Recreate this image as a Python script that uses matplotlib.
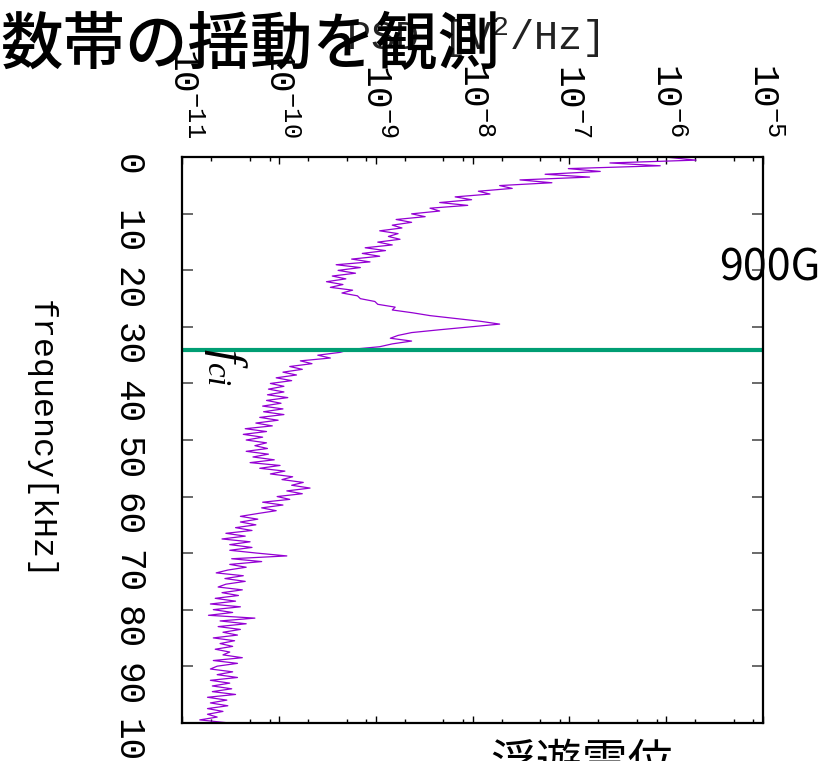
import numpy as np
import matplotlib
matplotlib.use('Agg')
import matplotlib.pyplot as plt
from matplotlib.ticker import LogLocator, NullFormatter
from matplotlib.transforms import ScaledTranslation

# log10 of the power spectral density [V^2/Hz], one sample every 0.5 kHz from 0 to 100 kHz
log_psd = [
    -5.98, -5.69, -6.58, -6.06, -7.01, -6.68, -7.25, -6.79, -7.51, -7.18,
    -7.72, -7.59, -7.94, -7.82, -8.18, -8.01, -8.34, -8.05, -8.44, -8.34,
    -8.63, -8.49, -8.79, -8.63, -8.83, -8.73, -8.96, -8.77, -8.87, -8.75,
    -8.98, -8.83, -9.11, -8.90, -9.14, -8.96, -9.25, -9.06, -9.41, -9.16,
    -9.39, -9.21, -9.45, -9.31, -9.51, -9.34, -9.47, -9.24, -9.35, -9.19,
    -9.16, -9.01, -8.98, -8.80, -8.83, -8.62, -8.44, -8.18, -7.92, -7.72,
    -8.03, -8.34, -8.63, -8.77, -8.85, -8.63, -8.83, -8.96, -9.27, -9.37,
    -9.60, -9.47, -9.78, -9.66, -9.89, -9.76, -9.96, -9.82, -10.03, -9.87,
    -10.09, -9.95, -10.11, -9.95, -10.12, -9.91, -10.13, -9.98, -10.17, -9.96,
    -10.16, -9.95, -10.20, -10.01, -10.24, -10.07, -10.35, -10.13, -10.37, -10.17,
    -10.34, -10.13, -10.25, -10.12, -10.34, -10.11, -10.27, -10.05, -10.30, -9.99,
    -10.20, -9.94, -10.09, -9.86, -9.97, -9.75, -9.87, -9.68, -9.92, -9.76,
    -10.02, -9.89, -10.17, -9.96, -10.18, -10.03, -10.22, -10.40, -10.22, -10.40,
    -10.24, -10.45, -10.28, -10.55, -10.35, -10.59, -10.30, -10.51, -10.28, -10.51,
    -10.23, -9.92, -10.49, -10.18, -10.51, -10.34, -10.53, -10.65, -10.37, -10.56,
    -10.35, -10.55, -10.63, -10.38, -10.59, -10.42, -10.66, -10.45, -10.71, -10.40,
    -10.68, -10.48, -10.73, -10.25, -10.61, -10.34, -10.63, -10.40, -10.58, -10.43,
    -10.68, -10.46, -10.61, -10.48, -10.66, -10.51, -10.58, -10.38, -10.68, -10.43,
    -10.64, -10.71, -10.48, -10.64, -10.43, -10.71, -10.51, -10.69, -10.49, -10.69,
    -10.45, -10.74, -10.54, -10.71, -10.53, -10.74, -10.58, -10.74, -10.64, -10.82,
    -10.54,
]
freq_khz = np.linspace(0, 100, len(log_psd))
psd = 10.0 ** np.array(log_psd)

f_ci_khz = 34.0          # ion cyclotron frequency
freq_ticks = [0, 10, 20, 30, 40, 50, 60, 70, 80, 90, 100]
psd_limits = (1e-11, 1e-5)

title_text = '数帯の揺動を観測'
field_text = '900G'
probe_text = '浮遊電位'

plt.rcParams['font.family'] = ['Liberation Mono', 'DejaVu Sans']
plt.rcParams['mathtext.fontset'] = 'custom'
plt.rcParams['mathtext.rm'] = 'Liberation Mono'
plt.rcParams['mathtext.it'] = 'Liberation Serif:italic'
cjk = ['Noto Sans CJK JP', 'DejaVu Sans']

fig = plt.figure(figsize=(8.33, 7.61), dpi=100, facecolor='white')
ax = fig.add_axes([0.2189, 0.0503, 0.6968, 0.7430])

# spectrum: PSD along the horizontal log axis, frequency running downwards
ax.plot(psd, freq_khz, color='#9400D3', lw=0.9)
ax.axhline(f_ci_khz, color='#009E73', lw=3)

ax.set_xscale('log')
ax.set_xlim(*psd_limits)
ax.set_ylim(100, 0)

ax.xaxis.set_major_locator(LogLocator(base=10, numticks=10))
ax.xaxis.set_minor_locator(LogLocator(base=10, subs=(2, 5, 8), numticks=10))
ax.xaxis.set_minor_formatter(NullFormatter())
ax.tick_params(axis='x', which='both', direction='in', top=True, bottom=True,
               labeltop=True, labelbottom=False, labelrotation=-90,
               labelsize=26, pad=14, color='black', width=1)
ax.tick_params(axis='x', which='major', length=5)
ax.tick_params(axis='x', which='minor', length=3)

ax.set_yticks(freq_ticks)
ax.set_yticklabels([str(t) for t in freq_ticks])
ax.tick_params(axis='y', direction='in', left=True, right=True, length=8,
               width=1.2, color='#505050', labelrotation=-90, labelsize=26, pad=27)
shift = ScaledTranslation(0, -0.10, fig.dpi_scale_trans)
for lab in ax.get_yticklabels():
    lab.set_transform(lab.get_transform() + shift)

for side in ax.spines.values():
    side.set_linewidth(1.6)
    side.set_color('black')

ax.set_xlabel(r'PSD [V$^2$/Hz]', fontsize=29, color='#222222')
ax.xaxis.set_label_position('top')
ax.xaxis.set_label_coords(0.5, 1.19)

ax.set_ylabel('frequency[kHz]', fontsize=24, rotation=-90, va='center', ha='center')
ax.yaxis.set_label_coords(-0.245, 0.5)

ax.text(2.8e-11, 37.0, r'$f_{ci}$', fontsize=34, rotation=-90,
        ha='center', va='center')

fig.text(0.0, 0.916, title_text, family=cjk, fontsize=45, fontweight='medium',
         color='black', ha='left', va='baseline')
fig.text(0.863, 0.632, field_text, family=cjk, fontsize=31, color='black',
         ha='left', va='baseline')
fig.text(0.589, -0.021, probe_text, family=cjk, fontsize=33, color='black',
         ha='left', va='baseline')

fig.savefig('out.png', dpi=100, facecolor='white')
